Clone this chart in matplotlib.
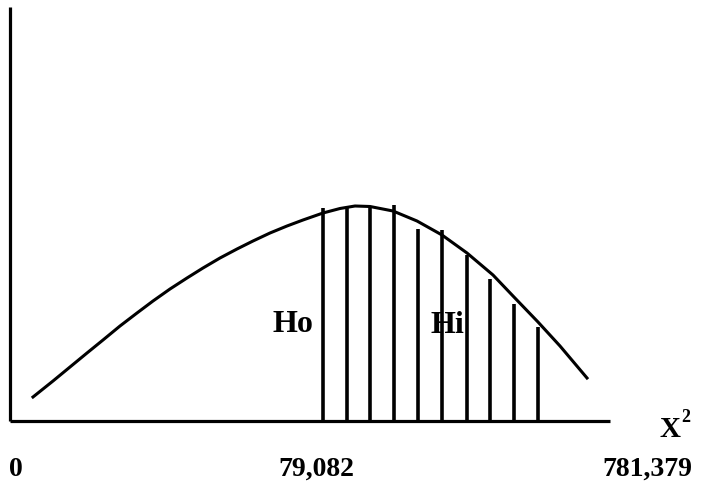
import numpy as np
import matplotlib
matplotlib.use("Agg")
import matplotlib.pyplot as plt

# chi-square density sketch (shape only), x along the X^2 axis
curve_x = [23, 43, 60, 77, 93, 110, 127, 143, 160, 177, 193, 210, 227, 243, 260, 277,
           293, 313, 330, 345, 360, 383, 407, 432, 457, 483, 503, 528, 550, 577]
curve_y = [24, 40, 54, 68, 81, 95, 108, 120, 132, 143, 153, 163, 172, 180, 188, 195,
           201, 208, 212.5, 215, 214.5, 210, 200, 186, 168, 146, 125, 99, 75, 43]

# hatch lines of the rejection region (Hi)
hatch_x = [313, 337, 360, 384, 408, 432, 457, 480, 504, 528]
hatch_top = [213, 214, 215, 216, 192, 191, 166, 142, 117, 94]

tick_pos = [6, 306, 637]
tick_labels = ["0", "79,082", "781,379"]

plt.rcParams['font.family'] = ['Liberation Serif', 'DejaVu Serif']

fig = plt.figure(figsize=(7.02, 4.94), dpi=100)
ax = fig.add_axes([0, 0, 1, 1])
ax.set_xlim(-10, 692)
ax.set_ylim(-73, 421)
ax.axis("off")

# axes
ax.plot([0, 0], [0, 414], color="black", lw=2.3, solid_capstyle="butt")
ax.plot([0, 600], [0, 0], color="black", lw=2.3, solid_capstyle="butt")

ax.plot(curve_x, curve_y, color="black", lw=2.2, solid_joinstyle="round")
ax.vlines(hatch_x, 0, hatch_top, color="black", lw=2.6)

ax.text(283, 89, "Ho", fontsize=23, fontweight="bold", ha="center", va="baseline")
ax.text(437, 88, "Hi", fontsize=23, fontweight="bold", ha="center", va="baseline")

for pos, lab in zip(tick_pos, tick_labels):
    ax.text(pos, -55, lab, fontsize=20, fontweight="bold", ha="center", va="baseline")
ax.text(649, -16, "X", fontsize=21, fontweight="bold", ha="left", va="baseline")
ax.text(671, -1, "2", fontsize=13, fontweight="bold", ha="left", va="baseline")

fig.savefig("out.png", dpi=100)
